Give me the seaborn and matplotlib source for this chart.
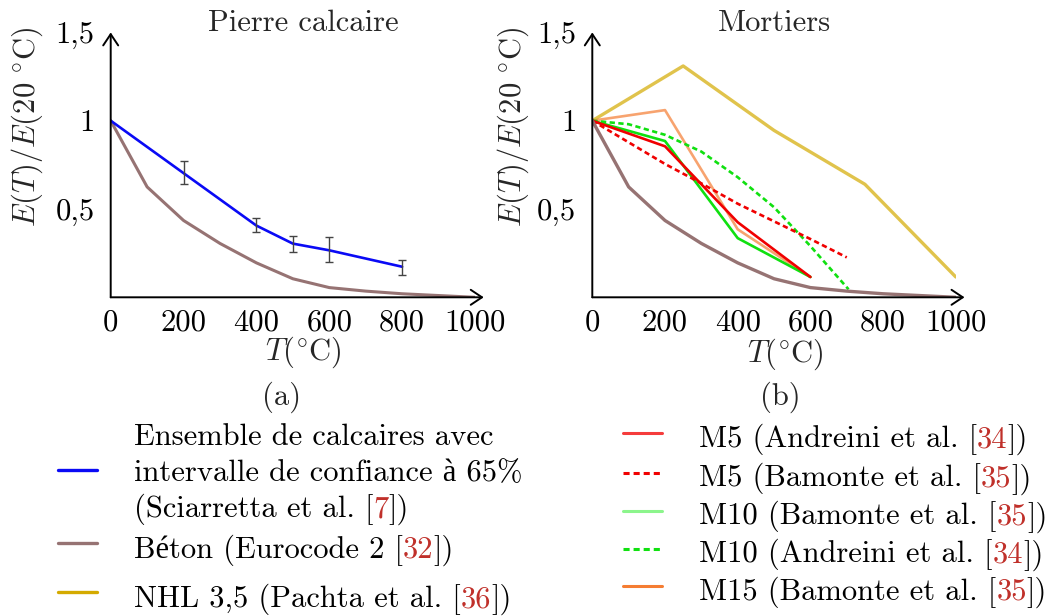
import matplotlib
matplotlib.use("Agg")
import matplotlib.pyplot as plt
import seaborn as sns

sns.set_theme(style="white")
plt.rcParams["font.family"] = ["cmr10", "Liberation Serif"]
plt.rcParams["mathtext.fontset"] = "cm"
plt.rcParams["axes.unicode_minus"] = False
plt.rcParams["axes.formatter.use_mathtext"] = True

# ---- data ----
temps = [0, 100, 200, 300, 400, 500, 600, 700, 800, 900, 1000]
beton = [1.0, 0.625, 0.435, 0.305, 0.195, 0.105, 0.055, 0.035, 0.02, 0.01, 0.0]

calc_t = [0, 200, 400, 500, 600, 800]
calc_e = [1.0, 0.703, 0.406, 0.304, 0.266, 0.173]
err_t = [200, 400, 500, 600, 800]
err_mid = [0.703, 0.406, 0.304, 0.266, 0.173]
err_lo = [0.643, 0.370, 0.255, 0.201, 0.125]
err_hi = [0.769, 0.449, 0.349, 0.340, 0.212]

nhl_t = [0, 250, 500, 750, 1000]
nhl_e = [1.0, 1.31, 0.945, 0.64, 0.115]
m5a_t = [0, 200, 400, 600]
m5a_e = [1.0, 0.855, 0.425, 0.115]
m5b_t = [0, 200, 300, 400, 600, 700]
m5b_e = [1.0, 0.755, 0.645, 0.53, 0.33, 0.226]
m10b_t = [0, 200, 400, 600]
m10b_e = [1.0, 0.885, 0.335, 0.115]
m10a_t = [0, 100, 200, 300, 400, 500, 600, 705]
m10a_e = [1.0, 0.98, 0.92, 0.825, 0.68, 0.51, 0.29, 0.045]
m15_t = [0, 200, 400, 600]
m15_e = [1.0, 1.06, 0.385, 0.115]

xticks = [0, 200, 400, 600, 800, 1000]
yticks = [0.5, 1.0, 1.5]
yticklabels = ["0,5", "1", "1,5"]

BLUE = "#0a0af5"
BROWN = "#967373"
GRAY = "#444444"
CITE = "#c0302a"
FS = 22
DASH = [2.0, 1.3]

W, H = 1055, 616
fig = plt.figure(figsize=(W / 100, H / 100), dpi=100)


def px_axes(x0, x1, y0, y1):
    # axes from pixel box (x0 left, x1 right, y0 top, y1 bottom)
    return fig.add_axes([x0 / W, 1 - y1 / H, (x1 - x0) / W, (y1 - y0) / H])


def style_axes(ax, title, title_x, xlabel_x, xlabel_y, ylabel_x):
    ax.set_xlim(0, 1000)
    ax.set_ylim(0, 1.5)
    for s in ax.spines.values():
        s.set_visible(False)
    arrow = dict(arrowstyle="->,head_length=0.45,head_width=0.3", lw=1.4,
                 color="black", shrinkA=0, shrinkB=0, mutation_scale=18)
    ax.annotate("", xy=(1.024, 0), xytext=(0, 0), xycoords="axes fraction",
                arrowprops=arrow)
    ax.annotate("", xy=(0, 1.0), xytext=(0, 0), xycoords="axes fraction",
                arrowprops=arrow)
    ax.set_xticks(xticks)
    ax.set_xticklabels([str(t) for t in xticks])
    ax.set_yticks(yticks)
    ax.set_yticklabels(yticklabels)
    ax.tick_params(axis="both", direction="inout", length=5, width=1.1,
                   colors="black", labelsize=FS)
    ax.tick_params(axis="x", pad=6)
    ax.tick_params(axis="y", pad=9)
    ax.set_title(title, fontsize=FS, x=title_x, y=1.033, va="center", pad=0)
    ax.set_xlabel(r"$T(^{\circ}\mathrm{C})$", fontsize=FS)
    ax.xaxis.set_label_coords(xlabel_x, xlabel_y)
    ax.xaxis.label.set_va("center")
    ax.set_ylabel(r"$E(T)/E(20\ ^{\circ}\mathrm{C})$", fontsize=FS)
    ax.yaxis.set_label_coords(ylabel_x, 0.643)
    ax.yaxis.label.set_va("center")
    ax.set_facecolor("white")


# ---- (a) Pierre calcaire ----
ax1 = px_axes(110.7, 475.0, 32.4, 297.3)
sns.lineplot(x=temps, y=beton, ax=ax1, color=BROWN, lw=2.2)
sns.lineplot(x=calc_t, y=calc_e, ax=ax1, color=BLUE, lw=1.9)
ax1.errorbar(err_t, err_mid,
             yerr=[[m - lo for m, lo in zip(err_mid, err_lo)],
                   [hi - m for m, hi in zip(err_mid, err_hi)]],
             fmt="none", ecolor=GRAY, elinewidth=1.0, capsize=3.2, capthick=1.0)
style_axes(ax1, "Pierre calcaire", 0.528, 0.528, -0.206, -0.228)

# ---- (b) Mortiers ----
ax2 = px_axes(592.3, 955.8, 32.4, 297.3)
sns.lineplot(x=nhl_t, y=nhl_e, ax=ax2, color="#d4aa00", alpha=0.7, lw=2.4)
sns.lineplot(x=m15_t, y=m15_e, ax=ax2, color="#f57d32", alpha=0.7, lw=1.9)
sns.lineplot(x=m10b_t, y=m10b_e, ax=ax2, color="#10e010", lw=1.9)
sns.lineplot(x=m10a_t, y=m10a_e, ax=ax2, color="#10e010", lw=1.9)
ax2.lines[-1].set_dashes(DASH)
sns.lineplot(x=m5b_t, y=m5b_e, ax=ax2, color="#f00000", lw=1.9)
ax2.lines[-1].set_dashes(DASH)
sns.lineplot(x=m5a_t, y=m5a_e, ax=ax2, color="#f00000", lw=1.9)
sns.lineplot(x=temps, y=beton, ax=ax2, color=BROWN, lw=2.4)
style_axes(ax2, "Mortiers", 0.50, 0.53, -0.214, -0.218)

fig.text(282 / W, 1 - 397 / H, "(a)", fontsize=FS, ha="center", va="center")
fig.text(780 / W, 1 - 397 / H, "(b)", fontsize=FS, ha="center", va="center")

# ---- legends (drawn by hand so citation numbers can be coloured) ----
renderer = fig.canvas.get_renderer()


def rich_text(x_px, y_px, parts):
    x = x_px
    for s, c in parts:
        t = fig.text(x / W, 1 - y_px / H, s, color=c, fontsize=FS,
                     ha="left", va="baseline")
        x += t.get_window_extent(renderer).width


def handle(x0, x1, y_px, color, lw, dashes=None):
    ln = plt.Line2D([x0 / W, x1 / W], [1 - y_px / H, 1 - y_px / H],
                    transform=fig.transFigure, color=color, lw=lw)
    if dashes:
        ln.set_dashes(dashes)
    fig.add_artist(ln)


left_entries = [
    (BLUE, 470, [[("Ensemble de calcaires avec", "black")],
                 [("intervalle de confiance à 65%", "black")],
                 [("(Sciarretta et al. [", "black"), ("7", CITE), ("])", "black")]],
     [445, 481, 517]),
    (BROWN, 543, [[("Béton (Eurocode 2 [", "black"), ("32", CITE), ("])", "black")]],
     [558]),
    ("#d4aa00", 592, [[("NHL 3,5 (Pachta et al. [", "black"), ("36", CITE), ("])", "black")]],
     [607]),
]
for color, hy, lines, bases in left_entries:
    handle(58, 97, hy, color, 2.4)
    for parts, b in zip(lines, bases):
        rich_text(134, b, parts)

right_entries = [
    ("#f53c3c", None, "M5 (Andreini et al. [", "34", 447),
    ("#f00000", DASH, "M5 (Bamonte et al. [", "35", 486.5),
    ("#8cf58c", None, "M10 (Bamonte et al. [", "35", 524.5),
    ("#10e010", DASH, "M10 (Andreini et al. [", "34", 562.5),
    ("#f57d32", None, "M15 (Bamonte et al. [", "35", 600),
]
for color, dashes, txt, num, b in right_entries:
    handle(623, 662, b - 14, color, 2.2, dashes)
    rich_text(699, b, [(txt, "black"), (num, CITE), ("])", "black")])

fig.savefig("out.png", dpi=100, facecolor="white")
